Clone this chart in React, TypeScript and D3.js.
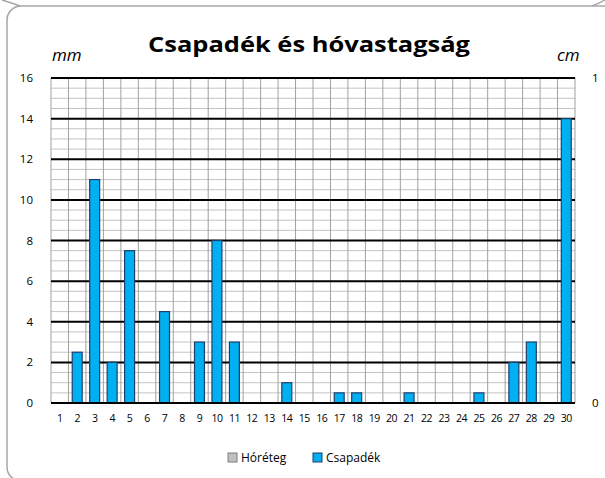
import * as d3 from 'd3';
import * as React from 'react';

// napok, csapadék (mm), hóréteg (cm)
const days: string[] = d3.range(1, 31).map(String);
const csapadek: number[] = [
  0, 2.5, 11, 2, 7.5, 0, 4.5, 0, 3, 8,
  3, 0, 0, 1, 0, 0, 0.5, 0.5, 0, 0,
  0.5, 0, 0, 0, 0.5, 0, 2, 3, 0, 14,
];
const horeteg: number[] = [
  0, 0, 0, 0, 0, 0, 0, 0, 0, 0,
  0, 0, 0, 0, 0, 0, 0, 0, 0, 0,
  0, 0, 0, 0, 0, 0, 0, 0, 0, 0,
];
const leftTicks: number[] = [0, 2, 4, 6, 8, 10, 12, 14, 16];
const rightTicks: number[] = [0, 1];

const W = 605;
const H = 478;
const margin = { top: 78, right: 30, bottom: 75, left: 51 };
const FONT = "'Open Sans', 'Noto Sans', sans-serif";

const App = () => {
  const x = d3.scaleBand<string>()
    .domain(days)
    .range([margin.left, W - margin.right])
    .paddingInner(0.43)
    .paddingOuter(0.215);
  const grid = d3.scaleBand<string>()
    .domain(days)
    .range([margin.left, W - margin.right]);
  const y = d3.scaleLinear().domain([0, 16]).range([H - margin.bottom, margin.top]);
  const y2 = d3.scaleLinear().domain([0, 1]).range([H - margin.bottom, margin.top]);

  const minor = d3.range(0, 16.01, 0.5).filter(v => v % 2 !== 0);
  const x0 = margin.left;
  const x1 = W - margin.right;

  return (
    <svg width={W} height={H} style={{ position: 'absolute', left: 0, top: 0, background: '#fff' }}>
      {/* keret */}
      <rect x={7} y={6} width={640} height={475} rx={14} fill='none' stroke='#a6a6a6' strokeWidth={1.5} />
      <path d='M2,0 Q12,3 20,6' fill='none' stroke='#a6a6a6' strokeWidth={1.5} />
      <path d='M605,0 Q598,4 592,6' fill='none' stroke='#a6a6a6' strokeWidth={1.5} />

      <text x={309} y={52} textAnchor='middle' fontFamily={FONT} fontWeight='bold'
        fontSize={21} fill='#000' textLength={322} lengthAdjust='spacingAndGlyphs'>
        Csapadék és hóvastagság
      </text>
      <text x={52} y={61} fontFamily={FONT} fontStyle='italic' fontSize={17} fill='#000'>mm</text>
      <text x={557} y={61} fontFamily={FONT} fontStyle='italic' fontSize={17} fill='#000'>cm</text>

      {/* rács */}
      {minor.map(v => (
        <line key={'m' + v} x1={x0} x2={x1} y1={y(v)} y2={y(v)} stroke='#c4c4c4' strokeWidth={1} />
      ))}
      {days.map(d => (
        <line key={'v' + d} x1={grid(d)} x2={grid(d)} y1={y(16)} y2={y(0)} stroke='#a0a0a0' strokeWidth={1} />
      ))}
      <line x1={x1} x2={x1} y1={y(16)} y2={y(0)} stroke='#a0a0a0' strokeWidth={1} />
      {leftTicks.map(v => (
        <line key={'M' + v} x1={x0} x2={x1} y1={y(v)} y2={y(v)} stroke='#000' strokeWidth={2} />
      ))}

      {/* oszlopok */}
      {horeteg.map((v, i) => v > 0 ? (
        <rect key={'h' + i} x={x(days[i])} width={x.bandwidth()} y={y2(v)} height={y2(0) - y2(v)}
          fill='#bfbfbf' stroke='#7f7f7f' />
      ) : null)}
      {csapadek.map((v, i) => v > 0 ? (
        <rect key={'c' + i} x={x(days[i])} width={x.bandwidth()} y={y(v)} height={y(0) - y(v)}
          fill='#00b0f0' stroke='#1f3f6f' strokeWidth={1.2} />
      ) : null)}
      <line x1={x0} x2={x1} y1={y(0)} y2={y(0)} stroke='#000' strokeWidth={2} />

      {/* tengelyfeliratok */}
      {leftTicks.map(v => (
        <text key={'l' + v} x={33} y={y(v) + 4} textAnchor='end' fontFamily={FONT} fontSize={11.5} fill='#000'>{v}</text>
      ))}
      {rightTicks.map(v => (
        <text key={'r' + v} x={592} y={y2(v) + 4} textAnchor='start' fontFamily={FONT} fontSize={11.5} fill='#000'>{v}</text>
      ))}
      {days.map(d => (
        <text key={'x' + d} x={grid(d)! + grid.bandwidth() / 2} y={422} textAnchor='middle'
          fontFamily={FONT} fontSize={10.5} letterSpacing={-0.5} fill='#000'>{d}</text>
      ))}

      {/* jelmagyarázat */}
      <rect x={228} y={453} width={9} height={9} fill='#bfbfbf' stroke='#7f7f7f' />
      <text x={241} y={462} fontFamily={FONT} fontSize={12} fill='#000'>Hóréteg</text>
      <rect x={313} y={453} width={9} height={9} fill='#00b0f0' stroke='#1f3f6f' />
      <text x={326} y={462} fontFamily={FONT} fontSize={12} fill='#000'>Csapadék</text>
    </svg>
  );
};

export default App;
